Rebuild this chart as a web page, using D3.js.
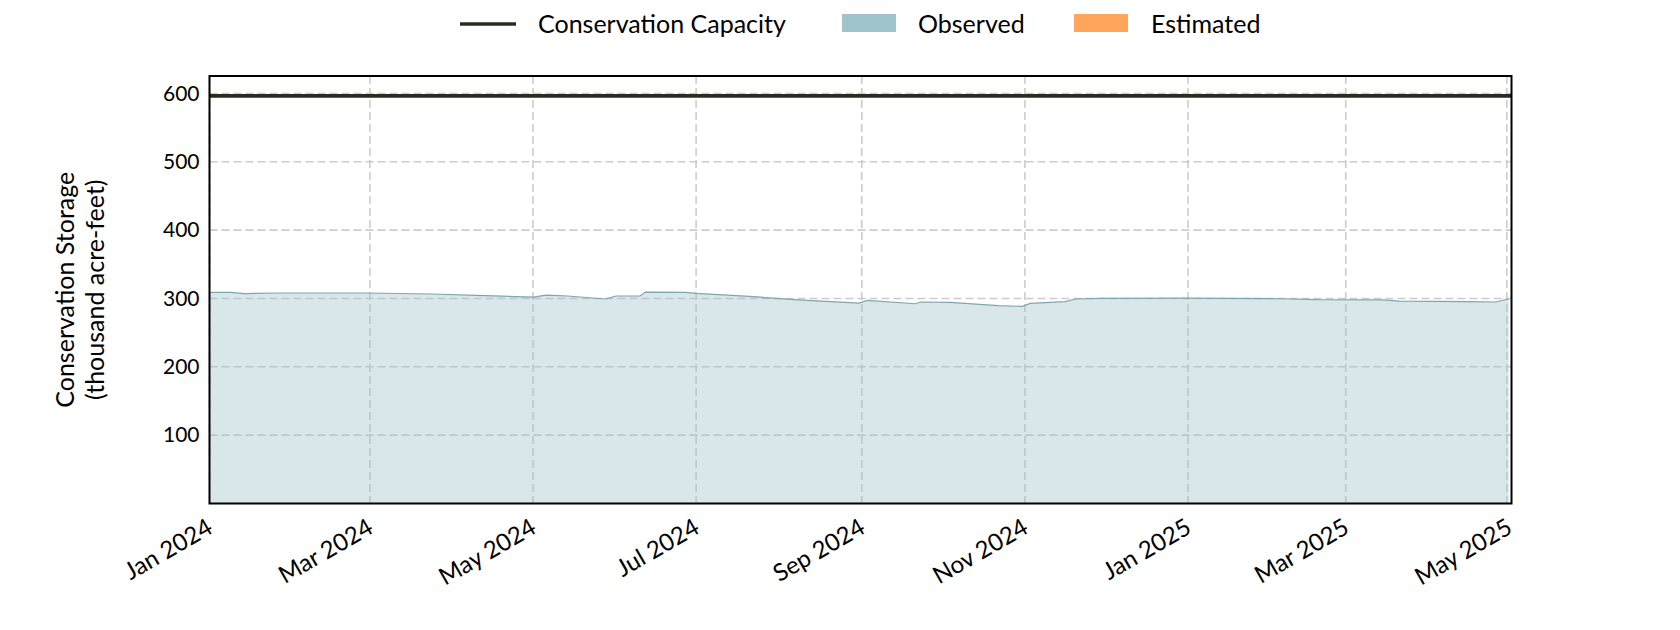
<!DOCTYPE html>
<html>
<head>
<meta charset="utf-8">
<script src="https://cdn.jsdelivr.net/npm/d3@7"></script>
<style>
  html, body { margin: 0; padding: 0; background: #fff; }
  svg { display: block; }
  text { font-family: "Lato", "Noto Sans", sans-serif; fill: #000; }
</style>
</head>
<body>
<svg id="chart" width="1680" height="630"></svg>
<script>
// ---- data ----
const obsDates = ["2024-01-01","2024-01-09","2024-01-14","2024-01-26","2024-02-29","2024-03-24","2024-04-10","2024-05-01","2024-05-06","2024-05-14","2024-05-28","2024-06-01","2024-06-10","2024-06-12","2024-06-27","2024-07-01","2024-07-21","2024-08-08","2024-08-31","2024-09-03","2024-09-21","2024-09-23","2024-10-04","2024-10-22","2024-10-31","2024-11-03","2024-11-16","2024-11-20","2024-11-29","2024-12-30","2025-02-05","2025-02-18","2025-03-15","2025-03-21","2025-04-16","2025-04-26","2025-05-01"];
const obsValues = [309,309,307,308,308,306.5,304.5,302,305,303.6,299.2,303.6,303.6,309.4,308.9,307.4,303,298,293.3,297.2,292.3,294.8,294.3,289.4,288.4,292.8,295.3,299.2,300,300.6,299.6,298.2,298,296.2,295.3,294.8,299.2];
const estDates = [];
const estValues = [];
const capacity = 596.5;
const yTicks = [100,200,300,400,500,600];
const xTickDates = ["2024-01-01","2024-03-01","2024-05-01","2024-07-01","2024-09-01","2024-11-01","2025-01-01","2025-03-01","2025-05-01"];
const xTickLabels = ["Jan 2024","Mar 2024","May 2024","Jul 2024","Sep 2024","Nov 2024","Jan 2025","Mar 2025","May 2025"];
const legendLabels = ["Conservation Capacity","Observed","Estimated"];

// ---- layout ----
const W = 1680, H = 630;
const m = {left: 209.5, right: 168.5, top: 76, bottom: 126.5};
const parse = d3.utcParse("%Y-%m-%d");
const svg = d3.select("#chart");

const x = d3.scaleUtc()
  .domain([parse("2024-01-01"), parse("2025-05-02")])
  .range([m.left, W - m.right]);
const y = d3.scaleLinear()
  .domain([0, 625.5])
  .range([H - m.bottom, m.top]);

const obs = obsDates.map((d, i) => ({date: parse(d), value: obsValues[i]}));
const est = estDates.map((d, i) => ({date: parse(d), value: estValues[i]}));

const gridColor = "#cccccc";
// grid
const grid = svg.append("g");
grid.selectAll("line.h").data(yTicks).join("line")
  .attr("x1", m.left).attr("x2", W - m.right)
  .attr("y1", d => y(d)).attr("y2", d => y(d))
  .attr("stroke", gridColor).attr("stroke-width", 1.6).attr("stroke-dasharray", "8,4");
grid.selectAll("line.v").data(xTickDates).join("line")
  .attr("x1", d => x(parse(d)) - (d === "2025-05-01" ? 2 : 0))
  .attr("x2", d => x(parse(d)) - (d === "2025-05-01" ? 2 : 0))
  .attr("y1", m.top).attr("y2", H - m.bottom)
  .attr("stroke", gridColor).attr("stroke-width", 1.6).attr("stroke-dasharray", "8,4");

// observed area
const area = d3.area().x(d => x(d.date)).y0(y(0)).y1(d => y(d.value));
const line = d3.line().x(d => x(d.date)).y(d => y(d.value));
svg.append("path").datum(obs).attr("d", area)
  .attr("fill", "#9fc4cb").attr("fill-opacity", 0.4);
svg.append("path").datum(obs).attr("d", line)
  .attr("fill", "none").attr("stroke", "#7ea6ad").attr("stroke-width", 1.2);

if (est.length) {
  svg.append("path").datum(est).attr("d", area)
    .attr("fill", "#ffa65c").attr("fill-opacity", 0.4);
}

// capacity line
svg.append("line")
  .attr("x1", m.left).attr("x2", W - m.right)
  .attr("y1", y(capacity)).attr("y2", y(capacity))
  .attr("stroke", "#2e2a22").attr("stroke-width", 3.8);

// frame
svg.append("rect")
  .attr("x", m.left).attr("y", m.top)
  .attr("width", W - m.left - m.right).attr("height", H - m.top - m.bottom)
  .attr("fill", "none").attr("stroke", "#000").attr("stroke-width", 2);

// y axis
const yAxis = d3.axisLeft(y).tickValues(yTicks).tickSize(0).tickPadding(10);
const gy = svg.append("g").attr("transform", `translate(${m.left},0)`).call(yAxis);
gy.select(".domain").remove();
gy.selectAll("text").style("font-size", "21px").style("font-family", "Lato, sans-serif").attr("fill", "#000");

// x axis
const xAxis = d3.axisBottom(x).tickValues(xTickDates.map(parse))
  .tickFormat((d, i) => xTickLabels[i]).tickSize(0).tickPadding(0);
const gx = svg.append("g").attr("transform", `translate(0,${H - m.bottom})`).call(xAxis);
gx.select(".domain").remove();
gx.selectAll("text")
  .style("font-size", "24px").style("font-family", "Lato, sans-serif").attr("fill", "#000")
  .attr("text-anchor", "end")
  .attr("transform", "translate(-4,14) rotate(-30)")
  .attr("y", 0).attr("dy", "0.7em");

// y label
const yl = svg.append("text")
  .attr("transform", `translate(74,${(m.top + H - m.bottom) / 2}) rotate(-90)`)
  .attr("text-anchor", "middle").style("font-size", "25px");
yl.append("tspan").attr("x", 0).attr("dy", 0).text("Conservation Storage");
yl.append("tspan").attr("x", 0).attr("dy", "1.2em").text("(thousand acre-feet)");

// legend
const lg = svg.append("g");
lg.append("line").attr("x1", 460).attr("x2", 516).attr("y1", 24).attr("y2", 24)
  .attr("stroke", "#2e2a22").attr("stroke-width", 3.5);
lg.append("text").attr("x", 538).attr("y", 24).attr("dy", "0.35em").style("font-size", "25px").text(legendLabels[0]);
lg.append("rect").attr("x", 842).attr("y", 14).attr("width", 54).attr("height", 18).attr("fill", "#9fc4cb");
lg.append("text").attr("x", 918).attr("y", 24).attr("dy", "0.35em").style("font-size", "25px").text(legendLabels[1]);
lg.append("rect").attr("x", 1074).attr("y", 14).attr("width", 54).attr("height", 18).attr("fill", "#ffa65c");
lg.append("text").attr("x", 1151).attr("y", 24).attr("dy", "0.35em").style("font-size", "25px").text(legendLabels[2]);
</script>
</body>
</html>
